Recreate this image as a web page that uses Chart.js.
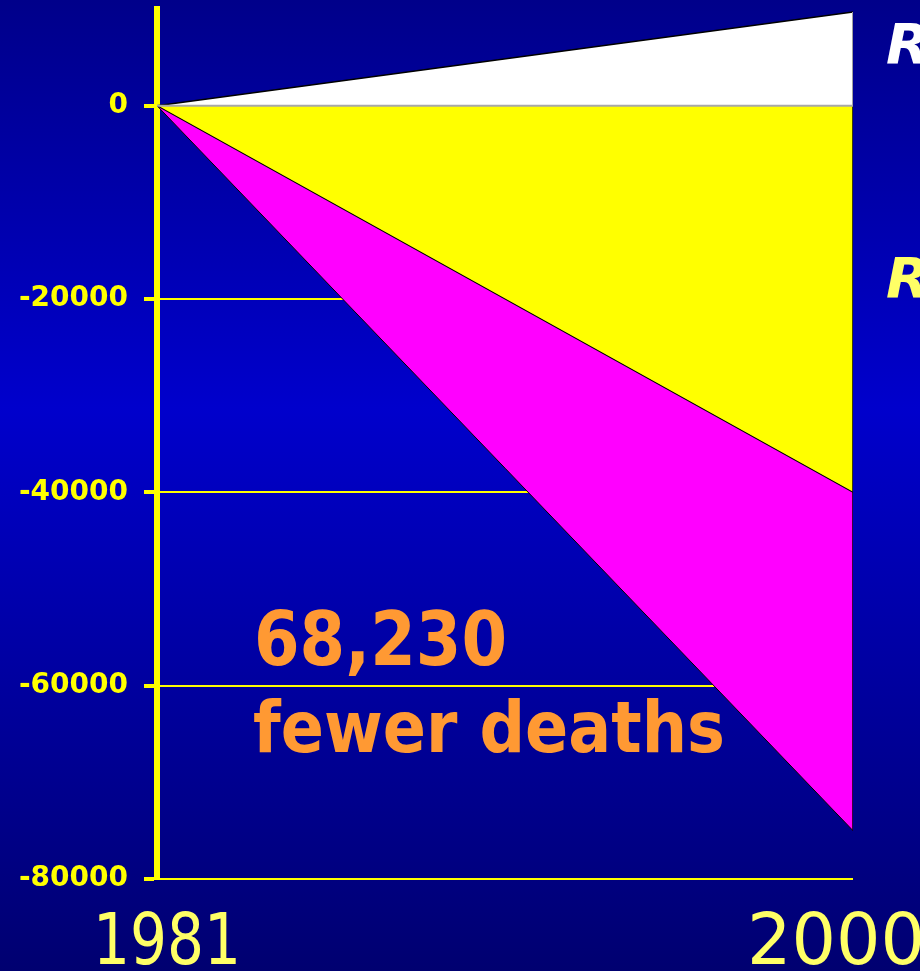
<!DOCTYPE html>
<html>
<head>
<meta charset="utf-8">
<script src="https://cdn.jsdelivr.net/npm/chart.js@4.4.1/dist/chart.umd.min.js"></script>
<style>
  html, body { margin: 0; padding: 0; background: #000080; }
  #wrap { width: 920px; height: 971px; }
</style>
</head>
<body>
<div id="wrap"><canvas id="chart" width="920" height="971"></canvas></div>
<script>
const years = [1981, 2000];
const rise = [0, 9700];
const fallYellow = [0, -40000];
const fallMagenta = [0, -75000];
const yTicks = [0, -20000, -40000, -60000, -80000];
const note = ['68,230', 'fewer deaths'];
const sideLabels = ['R', 'R'];

const pts = vals => vals.map((v, i) => ({x: years[i], y: v}));
const last = years[years.length - 1];

const background = {
    id: 'background',
    beforeDraw(chart) {
        const {ctx, width, height} = chart;
        const g = ctx.createLinearGradient(0, 0, 0, height);
        g.addColorStop(0, '#00008a');
        g.addColorStop(0.42, '#0000cc');
        g.addColorStop(1, '#000070');
        ctx.save();
        ctx.fillStyle = g;
        ctx.fillRect(0, 0, width, height);
        ctx.restore();
    }
};

const texts = {
    id: 'texts',
    afterDraw(chart) {
        const {ctx} = chart;
        const x = chart.scales.x;
        ctx.save();
        ctx.textBaseline = 'alphabetic';
        ctx.textAlign = 'left';

        // year labels
        ctx.fillStyle = '#ffff66';
        ctx.font = '72px "DejaVu Sans"';
        ctx.fillText(String(years[0]), x.getPixelForValue(years[0]) - 64, 964, 148);
        ctx.fillText(String(last), x.getPixelForValue(last) - 106, 964, 178);

        // note
        ctx.fillStyle = '#ff9933';
        ctx.font = 'bold 74px "DejaVu Sans"';
        ctx.fillText(note[0], 254, 665, 253);
        ctx.font = 'bold 72px "DejaVu Sans"';
        ctx.fillText(note[1], 253, 752, 472);

        // cut-off side labels
        ctx.font = 'italic bold 56px "DejaVu Sans"';
        ctx.fillStyle = '#ffffff';
        ctx.fillText(sideLabels[0], 886, 63);
        ctx.fillStyle = '#ffff66';
        ctx.fillText(sideLabels[1], 886, 297);
        ctx.restore();
    }
};

new Chart(document.getElementById('chart'), {
    type: 'line',
    data: {
        datasets: [
            {
                label: 'zero',
                data: pts([0, 0]),
                borderColor: '#a8a8a8',
                borderWidth: 2,
                fill: false,
                pointRadius: 0
            },
            {
                label: 'edge up',
                data: [{x: last, y: 0}, {x: last, y: rise[1]}],
                borderColor: '#a0a0a0',
                borderWidth: 2,
                fill: false,
                pointRadius: 0
            },
            {
                label: 'edge down',
                data: [{x: last, y: 0}, {x: last, y: fallMagenta[1]}],
                borderColor: '#000000',
                borderWidth: 1.5,
                fill: false,
                pointRadius: 0
            },
            {
                label: 'rise',
                data: pts(rise),
                borderColor: '#000000',
                borderWidth: 1.5,
                backgroundColor: '#ffffff',
                fill: 'origin',
                pointRadius: 0
            },
            {
                label: 'yellow',
                data: pts(fallYellow),
                borderColor: '#000000',
                borderWidth: 1.2,
                backgroundColor: '#ffff00',
                fill: 'origin',
                pointRadius: 0
            },
            {
                label: 'magenta',
                data: pts(fallMagenta),
                borderColor: '#000000',
                borderWidth: 1,
                backgroundColor: '#ff00ff',
                fill: '-1',
                pointRadius: 0
            }
        ]
    },
    options: {
        responsive: false,
        animation: false,
        layout: {
            padding: {top: 9, right: 67, bottom: 0, left: 0}
        },
        plugins: {
            legend: {display: false},
            tooltip: {enabled: false}
        },
        scales: {
            x: {
                type: 'linear',
                min: years[0],
                max: last,
                afterBuildTicks: scale => { scale.ticks = years.map(v => ({value: v})); },
                afterFit: scale => { scale.height = 92; },
                ticks: {display: false},
                grid: {display: false},
                border: {display: false}
            },
            y: {
                min: -80000,
                max: 10000,
                afterBuildTicks: scale => { scale.ticks = yTicks.map(v => ({value: v})); },
                afterFit: scale => {
                    scale.width = 157;
                    scale.paddingTop = 0;
                    scale.paddingBottom = 0;
                },
                ticks: {
                    color: '#ffff00',
                    padding: 16,
                    callback: v => String(v),
                    font: {family: '"DejaVu Sans"', weight: 'bold', size: 28}
                },
                grid: {
                    color: ctx => ctx.tick && ctx.tick.value === 0 ? 'rgba(0,0,0,0)' : '#ffff00',
                    lineWidth: 2,
                    tickLength: 13,
                    tickWidth: 4,
                    tickColor: '#ffff00'
                },
                border: {display: true, color: '#ffff00', width: 6}
            }
        }
    },
    plugins: [background, texts]
});
</script>
</body>
</html>
